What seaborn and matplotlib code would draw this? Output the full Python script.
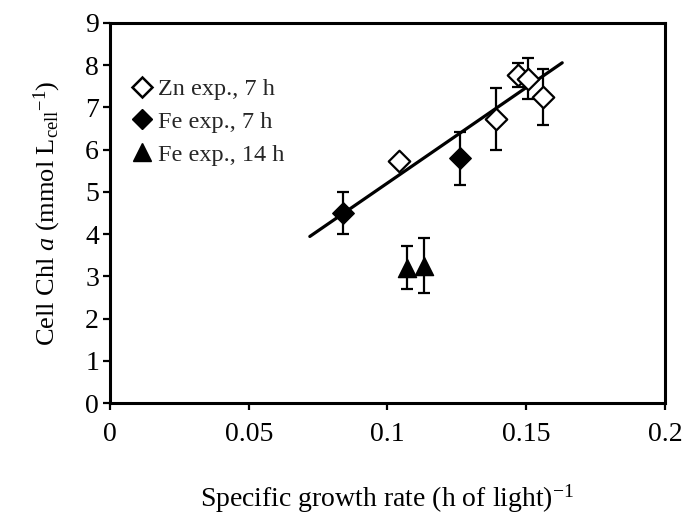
import numpy as np
import pandas as pd
import matplotlib
matplotlib.use("Agg")
import matplotlib.pyplot as plt
import seaborn as sns
from matplotlib.lines import Line2D

# ---- data ----
zn_x = [0.104, 0.139, 0.147, 0.1506, 0.156]
zn_y = [5.72, 6.72, 7.77, 7.68, 7.25]
zn_err = [0.0, 0.73, 0.28, 0.48, 0.67]

fe7_x = [0.084, 0.126]
fe7_y = [4.50, 5.80]
fe7_err = [0.50, 0.63]

fe14_x = [0.107, 0.113]
fe14_y = [3.20, 3.25]
fe14_err = [0.51, 0.65]

fit_slope = 45.2
fit_intercept = 0.69
fit_xrange = [0.072, 0.163]

labels = ["Zn exp., 7 h", "Fe exp., 7 h", "Fe exp., 14 h"]
x_ticks = [0, 0.05, 0.1, 0.15, 0.2]
x_ticklabels = ["0", "0.05", "0.1", "0.15", "0.2"]
y_ticks = list(range(0, 10))

# ---- style ----
sns.set_theme(style="ticks")
plt.rcParams["font.family"] = ["Liberation Serif", "DejaVu Serif"]
plt.rcParams["mathtext.fontset"] = "custom"
plt.rcParams["mathtext.rm"] = "Liberation Serif"
plt.rcParams["mathtext.it"] = "Liberation Serif:italic"

fig = plt.figure(figsize=(6.84, 5.19), dpi=100)
ax = fig.add_axes([0.161, 0.2235, 0.811, 0.7322])

# regression line
fit_df = pd.DataFrame({"x": fit_xrange,
                       "y": [fit_slope * v + fit_intercept for v in fit_xrange]})
sns.lineplot(data=fit_df, x="x", y="y", ax=ax, color="black", lw=2.3, zorder=2)

# error bars
for xs, ys, es in [(zn_x, zn_y, zn_err), (fe7_x, fe7_y, fe7_err), (fe14_x, fe14_y, fe14_err)]:
    ax.errorbar(xs, ys, yerr=es, fmt="none", ecolor="black", elinewidth=1.6,
                capsize=4.3, capthick=1.6, zorder=3)

# markers
df = pd.concat([
    pd.DataFrame({"x": zn_x, "y": zn_y, "g": labels[0]}),
    pd.DataFrame({"x": fe7_x, "y": fe7_y, "g": labels[1]}),
    pd.DataFrame({"x": fe14_x, "y": fe14_y, "g": labels[2]}),
])
sns.scatterplot(data=df[df.g == labels[0]], x="x", y="y", marker="D", s=120,
                facecolor="white", edgecolor="black", linewidth=1.6, ax=ax, zorder=4,
                legend=False)
sns.scatterplot(data=df[df.g == labels[1]], x="x", y="y", marker="D", s=120,
                color="black", edgecolor="black", linewidth=1.0, ax=ax, zorder=4,
                legend=False)
sns.scatterplot(data=df[df.g == labels[2]], x="x", y="y", marker="^", s=170,
                color="black", edgecolor="black", linewidth=1.0, ax=ax, zorder=4,
                legend=False)

ax.set_xlim(0, 0.2)
ax.set_ylim(0, 9)
ax.set_xticks(x_ticks)
ax.set_xticklabels(x_ticklabels)
ax.set_yticks(y_ticks)
ax.tick_params(axis="both", labelsize=20, width=1.6, length=5, direction="out",
               color="black", labelcolor="black")
ax.tick_params(axis="x", pad=9)
ax.tick_params(axis="y", pad=3)
for sp in ax.spines.values():
    sp.set_visible(True)
    sp.set_linewidth(2.2)
    sp.set_color("black")

ax.set_xlabel(r"Specific growth rate (h of light)$^{\mathregular{-1}}$", fontsize=20,
              labelpad=25, color="black")
ax.set_ylabel(r"Cell Chl $\mathit{a}$ (mmol L$_{\mathregular{cell}}$$^{\mathregular{-1}}$)",
              fontsize=19, labelpad=16, color="black")

handles = [
    Line2D([], [], marker="D", ls="none", ms=10, mfc="white", mec="black", mew=1.8),
    Line2D([], [], marker="D", ls="none", ms=10, mfc="black", mec="black"),
    Line2D([], [], marker="^", ls="none", ms=13, mfc="black", mec="black"),
]
ax.legend(handles, labels, loc="upper left", bbox_to_anchor=(0.0, 0.90),
          frameon=False, fontsize=17.5, handletextpad=0.05, handlelength=1.2,
          labelspacing=0.45, borderaxespad=0.3)

fig.savefig("out.png", dpi=100)
